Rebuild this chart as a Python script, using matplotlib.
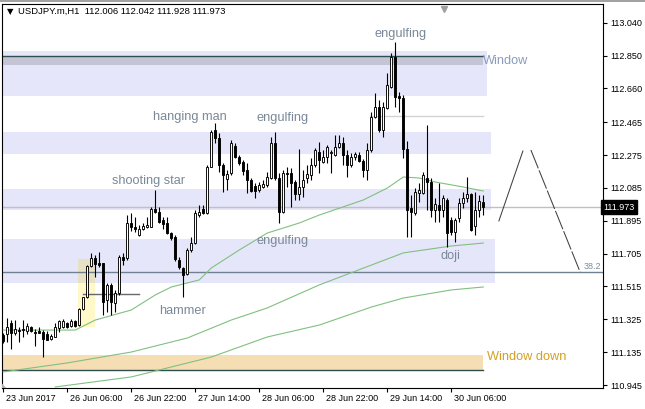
"""USDJPY H1 candlestick chart with pattern notes (MT4 style)."""
import matplotlib
matplotlib.use('Agg')
import matplotlib.pyplot as plt
import matplotlib.patches as mpatches
import matplotlib.transforms as mtransforms
from matplotlib.lines import Line2D
import numpy as np

plt.rcParams['font.family'] = ['Liberation Sans', 'DejaVu Sans']

# ── OHLC data (H1 bars) ───────────────────────────────────────────────────
opens = [111.235, 111.241, 111.302, 111.245, 111.264, 111.268, 111.260, 111.279, 111.254, 111.260,
         111.254, 111.241, 111.210, 111.225, 111.273, 111.279, 111.306, 111.287, 111.314, 111.293,
         111.383, 111.453, 111.634, 111.678, 111.653, 111.649, 111.437, 111.524, 111.422, 111.476,
         111.684, 111.677, 111.880, 111.861, 111.812, 111.849, 111.857, 111.861, 111.961, 111.947,
         111.899, 111.880, 111.822, 111.803, 111.668, 111.620, 111.587, 111.726, 111.764, 111.928,
         111.961, 111.938, 112.207, 112.419, 112.371, 112.217, 112.134, 112.169, 112.327, 112.265,
         112.236, 112.188, 112.131, 112.096, 112.073, 112.092, 112.102, 112.140, 112.342, 112.140,
         111.948, 112.173, 112.173, 112.121, 112.050, 112.088, 112.140, 112.159, 112.217, 112.294,
         112.237, 112.265, 112.288, 112.275, 112.323, 112.342, 112.275, 112.217, 112.265, 112.275,
         112.242, 112.188, 112.304, 112.497, 112.555, 112.420, 112.549, 112.670, 112.844, 112.618,
         112.607, 112.310, 111.967, 111.938, 112.054, 112.054, 112.144, 112.121, 111.957, 111.986,
         111.957, 112.015, 111.900, 111.832, 111.909, 112.000, 112.027, 112.048, 111.867, 111.957,
         112.006]
highs = [111.245, 111.335, 111.322, 111.322, 111.279, 111.322, 111.302, 111.287, 111.268, 111.279,
         111.264, 111.260, 111.241, 111.302, 111.322, 111.326, 111.312, 111.326, 111.322, 111.389,
         111.456, 111.640, 111.711, 111.697, 111.717, 111.653, 111.537, 111.534, 111.495, 111.697,
         111.707, 111.928, 111.938, 111.918, 111.870, 111.880, 111.918, 111.977, 112.073, 111.977,
         111.918, 111.918, 111.832, 111.812, 111.687, 111.629, 111.735, 111.803, 111.957, 111.986,
         111.986, 112.217, 112.419, 112.458, 112.400, 112.227, 112.188, 112.362, 112.342, 112.275,
         112.246, 112.227, 112.140, 112.111, 112.121, 112.131, 112.179, 112.381, 112.410, 112.169,
         112.188, 112.208, 112.198, 112.131, 112.308, 112.188, 112.217, 112.256, 112.314, 112.352,
         112.304, 112.333, 112.304, 112.391, 112.391, 112.381, 112.304, 112.285, 112.294, 112.294,
         112.250, 112.342, 112.526, 112.632, 112.593, 112.584, 112.747, 112.863, 112.927, 112.641,
         112.622, 112.356, 112.044, 112.083, 112.111, 112.179, 112.449, 112.140, 112.025, 112.111,
         112.044, 112.025, 111.919, 111.909, 112.025, 112.063, 112.150, 112.054, 112.063, 112.044,
         112.042]
lows = [111.187, 111.196, 111.152, 111.235, 111.196, 111.225, 111.241, 111.254, 111.171, 111.245,
        111.110, 111.206, 111.206, 111.221, 111.254, 111.273, 111.273, 111.279, 111.279, 111.287,
        111.379, 111.447, 111.630, 111.568, 111.630, 111.350, 111.370, 111.350, 111.370, 111.466,
        111.640, 111.668, 111.837, 111.832, 111.807, 111.841, 111.851, 111.857, 111.938, 111.884,
        111.845, 111.818, 111.783, 111.664, 111.614, 111.456, 111.581, 111.716, 111.760, 111.918,
        111.934, 111.934, 112.203, 112.342, 112.178, 112.063, 112.073, 112.159, 112.256, 112.217,
        112.159, 112.053, 112.063, 112.025, 112.063, 112.082, 112.092, 112.134, 112.131, 111.880,
        111.940, 112.092, 111.977, 112.015, 112.015, 112.034, 112.111, 112.131, 112.208, 112.169,
        112.227, 112.227, 112.169, 112.269, 112.314, 112.217, 112.150, 112.208, 112.246, 112.237,
        112.150, 112.131, 112.295, 112.491, 112.410, 112.381, 112.541, 112.661, 112.555, 112.526,
        112.256, 111.803, 111.803, 111.929, 112.006, 112.048, 111.957, 111.919, 111.890, 111.890,
        111.919, 111.745, 111.813, 111.774, 111.890, 111.967, 112.006, 111.836, 111.813, 111.919,
        111.928]
closes = [111.200, 111.283, 111.248, 111.268, 111.258, 111.262, 111.287, 111.260, 111.245, 111.248,
          111.210, 111.208, 111.229, 111.279, 111.318, 111.318, 111.279, 111.318, 111.287, 111.383,
          111.453, 111.634, 111.678, 111.645, 111.640, 111.428, 111.524, 111.428, 111.476, 111.684,
          111.669, 111.880, 111.857, 111.847, 111.847, 111.865, 111.870, 111.961, 111.947, 111.889,
          111.876, 111.822, 111.793, 111.672, 111.625, 111.581, 111.726, 111.764, 111.938, 111.943,
          111.938, 112.207, 112.410, 112.371, 112.217, 112.159, 112.165, 112.342, 112.265, 112.227,
          112.184, 112.130, 112.069, 112.069, 112.102, 112.107, 112.150, 112.342, 112.140, 111.948,
          112.173, 112.165, 112.111, 112.050, 112.088, 112.131, 112.165, 112.217, 112.304, 112.246,
          112.265, 112.323, 112.289, 112.323, 112.346, 112.275, 112.217, 112.265, 112.281, 112.242,
          112.188, 112.304, 112.497, 112.555, 112.420, 112.555, 112.680, 112.844, 112.613, 112.607,
          112.310, 111.957, 111.944, 112.063, 112.073, 112.160, 112.117, 111.957, 111.990, 111.957,
          112.025, 111.822, 111.832, 111.900, 112.000, 112.029, 112.048, 111.842, 111.957, 112.009,
          111.973]

# moving averages (bar index, price)
ma_fast_x = [0, 18, 23, 32, 38, 42, 49, 52, 59, 66, 74, 79, 90, 96, 100, 104, 108, 115, 120]
ma_fast_y = [111.263, 111.263, 111.321, 111.379, 111.466, 111.512, 111.553, 111.622, 111.726,
             111.824, 111.882, 111.928, 112.015, 112.084, 112.148, 112.142, 112.119, 112.090, 112.067]
ma_mid_x = [0, 16, 32, 46, 57, 66, 79, 100, 112, 120]
ma_mid_y = [111.021, 111.073, 111.136, 111.217, 111.321, 111.391, 111.524, 111.709, 111.749, 111.766]
ma_slow_x = [13, 32, 52, 66, 79, 92, 100, 112, 120]
ma_slow_y = [110.934, 110.992, 111.107, 111.223, 111.292, 111.396, 111.448, 111.495, 111.512]

# zones: (low, high, last bar)
zone_lo = [112.616, 112.281, 111.957, 111.535]
zone_hi = [112.876, 112.408, 112.079, 111.789]
zone_end = [120.9, 121.9, 121.9, 122.9]

y_ticks = [113.040, 112.850, 112.660, 112.465, 112.275, 112.085, 111.895,
           111.705, 111.515, 111.325, 111.135, 110.945]
x_ticks = [0, 16, 32, 48, 64, 80, 96, 112]
x_labels = ['23 Jun 2017', '26 Jun 06:00', '26 Jun 22:00', '27 Jun 14:00',
            '28 Jun 06:00', '28 Jun 22:00', '29 Jun 14:00', '30 Jun 06:00']

last_price = 111.973
fibo_382 = 111.599
proj_x = [123.9, 129.9, 131.9, 144.2]
proj_y = [111.894, 112.298, 112.304, 111.599]

LAV = '#E6E6FA'
NOTE = '#7a8898'

fig = plt.figure(figsize=(6.45, 4.09), dpi=100)
fig.patch.set_facecolor('white')
ax = fig.add_axes([2 / 645, 1 - 388 / 409, 601 / 645, 384.5 / 409])
X0, X1 = -0.33, 149.93
ax.set_xlim(X0, X1)
ax.set_ylim(110.928, 113.151)

# ── zones ─────────────────────────────────────────────────────────────────
for lo, hi, end in zip(zone_lo, zone_hi, zone_end):
    ax.add_patch(mpatches.Rectangle((X0, lo), end - X0, hi - lo, lw=0,
                                    facecolor=LAV, zorder=1))
ax.add_patch(mpatches.Rectangle((X0, 112.795), 119.9 - X0, 0.048, lw=0,
                                facecolor='#C4C4D4', zorder=1.5))
ax.plot([X0, 119.9], [112.845, 112.845], color='#2F4F4F', lw=1, zorder=2)
ax.add_patch(mpatches.Rectangle((X0, 111.032), 119.9 - X0, 0.087, lw=0,
                                facecolor='#F5DEB3', zorder=1))
ax.plot([X0, 119.9], [111.032, 111.032], color='#2F4F4F', lw=1, zorder=2)

# yellow marker box around the breakout bars
ax.add_patch(mpatches.Rectangle((18.7, 111.281), 4.2, 0.393, lw=0,
                                facecolor='#FFF8C8', zorder=1.6))
ax.add_patch(mpatches.Rectangle((18.7, 111.535), 4.2, 0.139, lw=0,
                                facecolor='#E6E0C4', zorder=1.7))

# ── horizontal lines ──────────────────────────────────────────────────────
ax.axhline(last_price, color='#C0C0C0', lw=1, zorder=2)
ax.axhline(fibo_382, color='#708090', lw=1, zorder=2)
ax.plot([91.7, 120], [112.500, 112.500], color='#D3D3D3', lw=1, zorder=2)
ax.plot([20, 33.9], [111.472, 111.472], color='#696969', lw=1, zorder=2)

# ── moving averages ───────────────────────────────────────────────────────
for mx, my in [(ma_fast_x, ma_fast_y), (ma_mid_x, ma_mid_y), (ma_slow_x, ma_slow_y)]:
    ax.plot(mx, my, color='#80C080', lw=0.8, zorder=3)

# ── candles ───────────────────────────────────────────────────────────────
idx = np.arange(len(opens))
o = np.array(opens)
c = np.array(closes)
up = c >= o
ax.vlines(idx, lows, highs, color='black', lw=0.8, zorder=4)
ax.bar(idx, np.maximum(np.abs(c - o), 0.004), bottom=np.minimum(o, c), width=0.5,
       color=np.where(up, 'white', 'black'), edgecolor='black', lw=0.65, zorder=5)

# ── projection sketch ─────────────────────────────────────────────────────
ax.plot(proj_x[:2], proj_y[:2], color='#404040', lw=0.75, zorder=3)
ax.plot(proj_x[2:], proj_y[2:], color='#404040', lw=0.75, zorder=3,
        linestyle=(0, (19, 2)))

# ── notes ─────────────────────────────────────────────────────────────────
notes = [
    ('engulfing', 99.2, 112.974, 'center', NOTE),
    ('hanging man', 46.7, 112.495, 'center', NOTE),
    ('engulfing', 69.9, 112.489, 'center', NOTE),
    ('shooting star', 36.2, 112.125, 'center', NOTE),
    ('engulfing', 69.9, 111.778, 'center', NOTE),
    ('hammer', 44.9, 111.373, 'center', NOTE),
    ('doji', 111.9, 111.691, 'center', NOTE),
    ('Window', 120.0, 112.818, 'left', '#8C9CBE'),
    ('Window down', 121.0, 111.107, 'left', '#D4A020'),
]
for txt, nx, ny, ha, col in notes:
    ax.text(nx, ny, txt, ha=ha, va='center', fontsize=9.2, color=col, zorder=6)
ax.text(149.4, 111.628, '38.2', ha='right', va='center', fontsize=6.5,
        color='#7a8aa0', zorder=6)

# ── axes styling ──────────────────────────────────────────────────────────
for sp in ax.spines.values():
    sp.set_color('black')
    sp.set_linewidth(0.8)
ax.yaxis.tick_right()
ax.set_yticks(y_ticks)
ax.set_yticklabels([f'{v:.3f}' for v in y_ticks])
ax.tick_params(axis='y', direction='out', length=3, width=0.8, pad=2,
               labelsize=6.5, colors='black')
ax.set_xticks(x_ticks)
ax.set_xticklabels(x_labels)
ax.tick_params(axis='x', direction='out', length=3, width=0.8, pad=1.5,
               labelsize=6.5, colors='black')
shift = mtransforms.ScaledTranslation(2 / 72, 0, fig.dpi_scale_trans)
for lab in ax.get_xticklabels():
    lab.set_horizontalalignment('left')
    lab.set_transform(lab.get_transform() + shift)

# current price box on the scale
ax.text(1.0, last_price, '111.973', transform=ax.get_yaxis_transform(),
        ha='left', va='center', fontsize=6.5, color='white', zorder=7,
        bbox=dict(boxstyle='square,pad=0.25', facecolor='black', edgecolor='black'),
        clip_on=False)

# chart-shift marker and corner mark
ax.plot([110.2], [0.985], marker='v', markersize=5, color='#A0A0A0',
        transform=ax.get_xaxis_transform(), clip_on=False, zorder=7)
ax.add_patch(mpatches.Polygon([(0, 0), (0.007, 0), (0, 0.012)], closed=True,
                              transform=ax.transAxes, facecolor='#B0B0B0',
                              lw=0, zorder=7))

# header
fig.text(7 / 645, 1 - 12 / 409, '\u25BC', fontsize=6, va='center', ha='left',
         family=['DejaVu Sans'])
fig.text(18 / 645, 1 - 11.7 / 409, 'USDJPY.m,H1  112.006 112.042 111.928 111.973',
         fontsize=6.8, va='center', ha='left', color='black')
fig.add_artist(Line2D([0, 1], [1 - 0.5 / 409, 1 - 0.5 / 409], color='#909090', lw=1.2))

fig.savefig('out.png', dpi=100, facecolor='white')
